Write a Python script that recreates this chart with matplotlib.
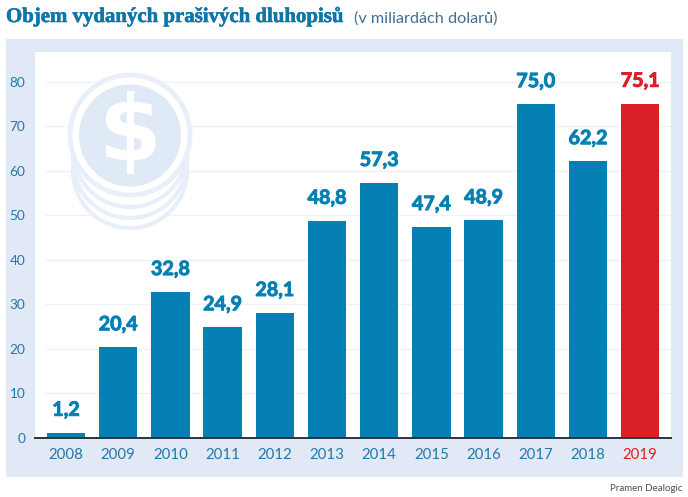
import matplotlib
matplotlib.use("Agg")
from matplotlib import pyplot as plt
from matplotlib import patheffects as pe
from matplotlib.patches import Circle, Rectangle

years = ["2008", "2009", "2010", "2011", "2012", "2013", "2014", "2015", "2016", "2017", "2018", "2019"]
values = [1.2, 20.4, 32.8, 24.9, 28.1, 48.8, 57.3, 47.4, 48.9, 75.0, 62.2, 75.1]
y_ticks = [0, 10, 20, 30, 40, 50, 60, 70, 80]

BLUE = "#0580b4"
RED = "#db1f26"
TEXT_BLUE = "#2478a8"
PANEL = "#e1e9f6"
COIN = "#e0e9f6"
RING = "#e9eff9"
GRID = "#eef2f9"
W, H = 688, 497

plt.rcParams["font.family"] = ["Lato", "DejaVu Sans"]
fig = plt.figure(figsize=(W / 100, H / 100), dpi=100, facecolor="white")

# background layer in pixel coordinates
bg = fig.add_axes([0, 0, 1, 1], zorder=0)
bg.set_xlim(0, W)
bg.set_ylim(H, 0)
bg.axis("off")
bg.add_patch(Rectangle((6, 39), 677, 438, color=PANEL, lw=0))
bg.add_patch(Rectangle((35, 52), 636, 386, color="white", lw=0))
px = bg.transData

# axes
ax = fig.add_axes([35 / W, 1 - 438 / H, 636 / W, 386 / H], zorder=1)
ax.patch.set_alpha(0)
x = list(range(len(years)))
colors = [BLUE] * 11 + [RED]
ax.hlines(y_ticks[1:], -0.40, 11.59, color=GRID, lw=1, zorder=1)
ax.bar(x, values, width=0.735, color=colors, zorder=3)
ax.set_xlim(-0.594, 11.59)
ax.set_ylim(0, 86.7)
ax.set_xticks(x)
ax.set_xticklabels(years, fontsize=10.8)
ax.set_yticks(y_ticks)
ax.set_yticklabels(y_ticks, fontsize=9.8, color=TEXT_BLUE)
ax.tick_params(length=0)
ax.tick_params(axis="x", pad=7.5, colors=TEXT_BLUE)
ax.tick_params(axis="y", pad=7)
ax.get_xticklabels()[-1].set_color(RED)
for s in ["top", "right", "left"]:
    ax.spines[s].set_visible(False)
ax.spines["bottom"].set_color("#2b3540")
ax.spines["bottom"].set_linewidth(1.4)
ax.spines["bottom"].set_zorder(5)

for i, v in enumerate(values):
    c = colors[i]
    ax.text(i, v + 2.9, f"{v:.1f}".replace(".", ","), ha="center", va="bottom", fontsize=14.2,
            fontweight="bold", color=c, zorder=4,
            path_effects=[pe.withStroke(linewidth=0.7, foreground=c)])

# coin stack, covers the grid lines
for cy in [171, 161, 150]:
    ax.add_patch(Circle((130, cy), 57, fc="white", ec=RING, lw=3, transform=px, zorder=2))
ax.add_patch(Circle((130, 135), 60, fc="white", ec=RING, lw=3.5, transform=px, zorder=2))
ax.add_patch(Circle((130, 135.5), 51, fc=COIN, ec="none", transform=px, zorder=2))
ax.text(130, 135, "$", color="white", fontsize=65, fontweight="bold", ha="center", va="center",
        family="DejaVu Sans", transform=px, zorder=2)

# titles
fig.text(6 / W, 1 - 22 / H, "Objem vydaných prašivých dluhopisů", fontsize=15, fontweight="bold",
         family="Liberation Serif", color="#0e76a8", va="baseline",
         path_effects=[pe.withStroke(linewidth=0.4, foreground="#0e76a8")])
fig.text(354 / W, 1 - 23 / H, "(v miliardách dolarů)", fontsize=11.7, color="#3f6f92", va="baseline")
fig.text(683 / W, 1 - 491 / H, "Pramen Dealogic", fontsize=7, color="#4a4f57", ha="right", va="baseline")

fig.savefig("out.png", dpi=100)
